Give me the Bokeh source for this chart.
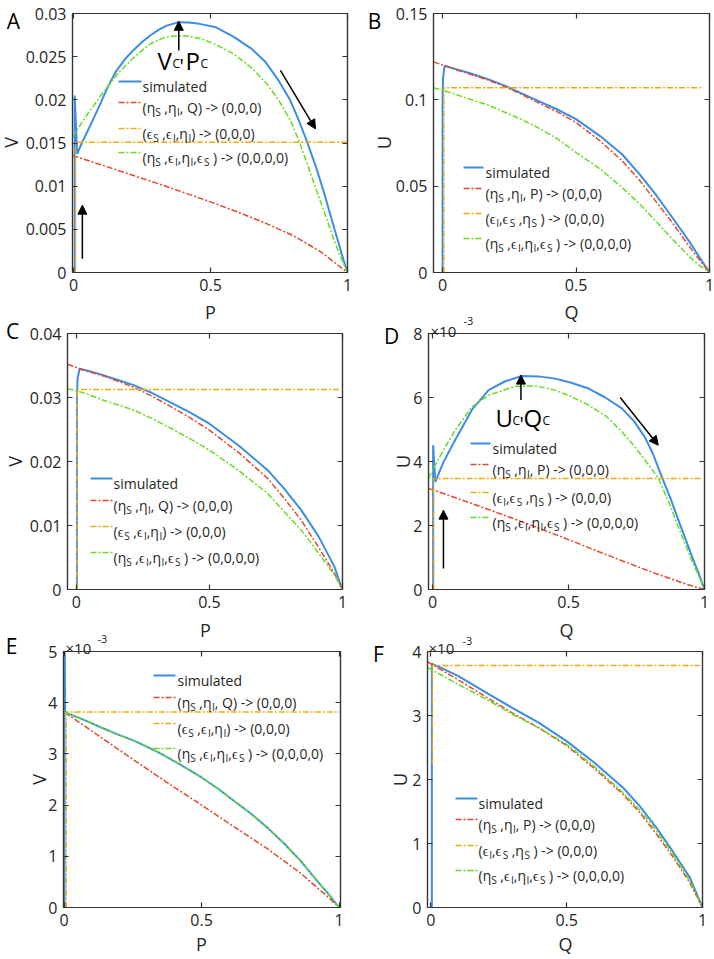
import math
from bokeh.plotting import figure
from bokeh.layouts import row, column
from bokeh.models import Label, Arrow, NormalHead, LinearAxis, FixedTicker, Range1d
from bokeh.embed import file_html
from bokeh.resources import INLINE

FONT = "Open Sans"
C_SIM = "#3C8DE6"
C_RED = "#E5482B"
C_ORA = "#F0AA10"
C_GRN = "#66DD22"
AXC = "#333333"
TXT = "#262626"
DASH = "6 2 2 2"
PAGE_W, PAGE_H = 714, 958

# ---------------- data ----------------
# Panel A : V vs P
A_sim_P = [0.004, 0.004, 0.013, 0.03, 0.05, 0.075, 0.10, 0.125, 0.153, 0.19, 0.22, 0.25, 0.28, 0.31, 0.34, 0.384,
           0.42, 0.46, 0.52, 0.585, 0.65, 0.70, 0.745, 0.79, 0.82, 0.853, 0.885, 0.914, 0.94, 0.962, 0.985, 1.0]
A_sim_V = [0.0, 0.0205, 0.01375, 0.0150, 0.0163, 0.0180, 0.0197, 0.0215, 0.0232, 0.0248, 0.0258, 0.0267, 0.02745,
           0.0281, 0.0286, 0.0290, 0.02895, 0.0288, 0.0284, 0.0273, 0.0259, 0.0244, 0.0224, 0.0200, 0.0178, 0.0151,
           0.0122, 0.0093, 0.0064, 0.0040, 0.0015, 0.0]
A_red_P = [-0.004, 0.1, 0.2, 0.3, 0.4, 0.5, 0.6, 0.7, 0.8, 0.9, 1.0]
A_red_V = [0.01355, 0.01248, 0.01143, 0.01038, 0.00930, 0.00818, 0.00700, 0.00572, 0.00430, 0.00245, 0.0]
A_ora_P = [0.007, 0.007, 1.0]
A_ora_V = [0.0, 0.0151, 0.0151]
A_grn_P = [-0.004, 0.0, 0.05, 0.1, 0.16, 0.22, 0.28, 0.33, 0.366, 0.41, 0.4635, 0.52, 0.585, 0.65, 0.707, 0.75,
           0.792, 0.822, 0.855, 0.889, 0.92, 0.95, 0.975, 1.0]
A_grn_V = [0.0157, 0.0159, 0.0183, 0.0205, 0.0230, 0.0249, 0.0265, 0.0272, 0.0274, 0.0274, 0.0271, 0.0264, 0.0253,
           0.0237, 0.0218, 0.0199, 0.0176, 0.0153, 0.0124, 0.0093, 0.0066, 0.0038, 0.0018, 0.0]

# Panel B : U vs Q
B_sim_Q = [0.0, 0.0, 0.002, 0.0075, 0.05, 0.1, 0.17, 0.235, 0.29, 0.35, 0.43, 0.5, 0.59, 0.6725, 0.74, 0.7975,
           0.86, 0.9225, 0.96, 1.0]
B_sim_U = [0.0, 0.0994, 0.113, 0.1197, 0.1178, 0.1155, 0.1120, 0.1081, 0.1042, 0.1000, 0.0944, 0.0888, 0.0790,
           0.0685, 0.0565, 0.0454, 0.0320, 0.0183, 0.0094, 0.0]
B_red_Q = [-0.034, 0.0075, 0.05, 0.1, 0.17, 0.235, 0.29, 0.35, 0.43, 0.5, 0.59, 0.6725, 0.74, 0.7975, 0.86, 0.9225,
           0.96, 1.0]
B_red_U = [0.122, 0.1197, 0.1175, 0.1150, 0.1115, 0.1075, 0.1036, 0.0990, 0.0930, 0.0869, 0.0762, 0.0647, 0.0530,
           0.0415, 0.0290, 0.0154, 0.0078, 0.0]
B_ora_Q = [0.005, 0.005, 0.975]
B_ora_U = [0.0, 0.107, 0.107]
B_grn_Q = [-0.034, 0.0, 0.1, 0.17, 0.235, 0.29, 0.35, 0.43, 0.5, 0.59, 0.6725, 0.74, 0.7975, 0.86, 0.9225, 0.96, 1.0]
B_grn_U = [0.107, 0.1056, 0.1005, 0.0970, 0.0927, 0.0890, 0.0845, 0.0775, 0.0695, 0.0600, 0.0492, 0.0395, 0.0299,
           0.0195, 0.0095, 0.0043, 0.0]

# Panel C : V vs P
C_sim_P = [0.0025, 0.0025, 0.005, 0.0125, 0.05, 0.1, 0.16, 0.218, 0.285, 0.35, 0.425, 0.5, 0.61, 0.719, 0.78,
           0.845, 0.91, 0.97, 0.99, 1.0]
C_sim_V = [0.0, 0.0301, 0.0330, 0.0345, 0.0341, 0.0335, 0.0327, 0.0319, 0.0307, 0.0293, 0.0277, 0.0259, 0.0225,
           0.01865, 0.0158, 0.0124, 0.0083, 0.00354, 0.0011, 0.0]
C_red_P = [-0.033, 0.0125, 0.05, 0.1, 0.16, 0.218, 0.285, 0.35, 0.425, 0.5, 0.61, 0.719, 0.78, 0.845, 0.91, 0.97,
           0.99, 1.0]
C_red_V = [0.0352, 0.0345, 0.0340, 0.0334, 0.0325, 0.03156, 0.0302, 0.0287, 0.0269, 0.0249, 0.0214, 0.01734, 0.0143,
           0.01083, 0.0066, 0.0025, 0.0008, 0.0]
C_ora_P = [0.003, 0.003, 0.989]
C_ora_V = [0.0, 0.03125, 0.03125]
C_grn_P = [-0.033, 0.0, 0.05, 0.1, 0.16, 0.218, 0.285, 0.35, 0.425, 0.5, 0.61, 0.719, 0.78, 0.845, 0.91, 0.97,
           0.99, 1.0]
C_grn_V = [0.03135, 0.0311, 0.0304, 0.0296, 0.0288, 0.0280, 0.0267, 0.0253, 0.0236, 0.02177, 0.0186, 0.0150,
           0.0122, 0.00927, 0.0057, 0.00224, 0.0007, 0.0]

# Panel D : U (x1e-3) vs Q
D_sim_Q = [0.002, 0.002, 0.01, 0.04, 0.083, 0.145, 0.206, 0.265, 0.328, 0.39, 0.451, 0.51, 0.574, 0.635, 0.696,
           0.74, 0.78, 0.81, 0.843, 0.875, 0.904, 0.93, 0.953, 0.978, 1.0]
D_sim_U = [0.0, 4.51, 3.36, 3.98, 4.67, 5.62, 6.23, 6.50, 6.67, 6.66, 6.59, 6.46, 6.28, 6.00, 5.66, 5.27, 4.77,
           4.25, 3.52, 2.85, 2.17, 1.58, 1.05, 0.52, 0.0]
D_red_Q = [-0.015, 0.1, 0.206, 0.35, 0.5, 0.6, 0.696, 0.82, 0.94, 1.0]
D_red_U = [3.16, 2.82, 2.50, 2.05, 1.56, 1.22, 0.90, 0.50, 0.15, 0.0]
D_ora_Q = [0.004, 0.004, 0.99]
D_ora_U = [0.0, 3.47, 3.47]
D_grn_Q = [-0.015, 0.02, 0.05, 0.083, 0.145, 0.206, 0.304, 0.38, 0.451, 0.51, 0.574, 0.64, 0.696, 0.74, 0.782,
           0.831, 0.87, 0.904, 0.93, 0.953, 0.978, 1.0]
D_grn_U = [3.47, 4.05, 4.50, 4.98, 5.71, 6.07, 6.35, 6.36, 6.23, 6.03, 5.76, 5.40, 4.93, 4.50, 4.04, 3.47, 2.70,
           1.95, 1.40, 0.90, 0.45, 0.0]

# Panel E : V (x1e-3) vs P
E_sim_P = [0.002, 0.002, 0.004, 0.07, 0.133, 0.19, 0.254, 0.34, 0.42, 0.5, 0.56, 0.618, 0.68, 0.739, 0.8, 0.86,
           0.92, 0.96, 1.0]
E_sim_V = [0.0, 5.3, 3.81, 3.67, 3.52, 3.39, 3.26, 3.04, 2.80, 2.54, 2.32, 2.08, 1.83, 1.56, 1.25, 0.91, 0.52,
           0.27, 0.0]
E_red_P = [0.002, 0.1, 0.254, 0.4, 0.5, 0.6, 0.739, 0.86, 0.95, 1.0]
E_red_V = [3.81, 3.45, 2.88, 2.35, 2.00, 1.64, 1.15, 0.67, 0.25, 0.0]
E_ora_P = [0.008, 0.008, 1.0]
E_ora_V = [0.0, 3.82, 3.82]
E_grn_P = [0.002, 0.07, 0.133, 0.19, 0.254, 0.34, 0.42, 0.5, 0.56, 0.618, 0.68, 0.739, 0.8, 0.86, 0.92, 0.96, 1.0]
E_grn_V = [3.81, 3.67, 3.52, 3.39, 3.26, 3.04, 2.80, 2.54, 2.32, 2.08, 1.83, 1.56, 1.25, 0.91, 0.52, 0.27, 0.0]

# Panel F : U (x1e-3) vs Q
F_sim_Q = [0.004, 0.004, 0.05, 0.1, 0.215, 0.3, 0.4, 0.5, 0.6, 0.707, 0.77, 0.83, 0.89, 0.953, 1.0]
F_sim_U = [0.0, 3.81, 3.72, 3.62, 3.33, 3.12, 2.88, 2.60, 2.27, 1.875, 1.58, 1.25, 0.88, 0.47, 0.0]
F_red_Q = [-0.012, 0.1, 0.215, 0.3, 0.4, 0.5, 0.6, 0.707, 0.77, 0.83, 0.89, 0.953, 1.0]
F_red_U = [3.84, 3.56, 3.26, 3.04, 2.80, 2.53, 2.18, 1.77, 1.48, 1.15, 0.80, 0.39, 0.0]
F_ora_Q = [0.006, 0.006, 0.99]
F_ora_U = [2.25, 3.78, 3.78]
F_grn_Q = [-0.012, 0.1, 0.215, 0.3, 0.4, 0.5, 0.6, 0.707, 0.77, 0.83, 0.89, 0.953, 1.0]
F_grn_U = [3.75, 3.49, 3.23, 3.02, 2.80, 2.55, 2.21, 1.80, 1.52, 1.20, 0.84, 0.42, 0.0]

# ticks
X_TICKS = [0, 0.5, 1]
X_TICK_LABELS = ["0", "0.5", "1"]
A_YTICKS = [0, 0.005, 0.01, 0.015, 0.02, 0.025, 0.03]
A_YLABELS = ["0", "0.005", "0.01", "0.015", "0.02", "0.025", "0.03"]
B_YTICKS = [0, 0.05, 0.1, 0.15]
B_YLABELS = ["0", "0.05", "0.1", "0.15"]
C_YTICKS = [0, 0.01, 0.02, 0.03, 0.04]
C_YLABELS = ["0", "0.01", "0.02", "0.03", "0.04"]
D_YTICKS = [0, 2, 4, 6, 8]
D_YLABELS = ["0", "2", "4", "6", "8"]
E_YTICKS = [0, 1, 2, 3, 4, 5]
E_YLABELS = ["0", "1", "2", "3", "4", "5"]
F_YTICKS = [0, 1, 2, 3, 4]
F_YLABELS = ["0", "1", "2", "3", "4"]

# arrows (data coordinates): x_start, y_start, x_end, y_end
A_ARROWS = [(0.032, 0.0016, 0.032, 0.0078), (0.384, 0.0257, 0.384, 0.0291), (0.755, 0.0234, 0.883, 0.01664)]
D_ARROWS = [(0.04, 0.66, 0.04, 2.48), (0.325, 5.92, 0.325, 6.70), (0.69, 6.0, 0.83, 4.51)]

# legend texts: list of (text, is_subscript)
LEG_SIM = [("simulated", 0)]
LEG_PQ_RED = [("(η", 0), ("S", 1), (" ,η", 0), ("I", 1), (", Q) -> (0,0,0)", 0)]
LEG_PQ_ORA = [("(ϵ", 0), ("S", 1), (" ,ϵ", 0), ("I", 1), (",η", 0), ("I", 1), (") -> (0,0,0)", 0)]
LEG_UQ_RED = [("(η", 0), ("S", 1), (" ,η", 0), ("I", 1), (", P) -> (0,0,0)", 0)]
LEG_UQ_ORA = [("(ϵ", 0), ("I", 1), (",ϵ", 0), ("S", 1), (" ,η", 0), ("S", 1), (" ) -> (0,0,0)", 0)]
LEG_GRN = [("(η", 0), ("S", 1), (" ,ϵ", 0), ("I", 1), (",η", 0), ("I", 1), (",ϵ", 0), ("S", 1), (" ) -> (0,0,0,0)", 0)]

# ---------------- helpers ----------------
CW = {'(': 0.296, ')': 0.296, ',': 0.30, ' ': 0.26, '-': 0.322, '>': 0.571, 'Q': 0.78, 'P': 0.613,
      'S': 0.535, 'I': 0.269, 'η': 0.614, 'ϵ': 0.47, 'C': 0.633, "'": 0.2, '×': 0.571, 'U': 0.733, 'V': 0.579}


def tw(s, size):
    w = 0.0
    for ch in s:
        w += 0.571 if ch.isdigit() else CW.get(ch, 0.55)
    return w * size


def to_data(sp, dx, dy):
    x0, x1 = sp["xr"]
    y0, y1 = sp["yr"]
    return x0 + dx / sp["fw"] * (x1 - x0), y1 - dy / sp["fh"] * (y1 - y0)


def add_text(p, sp, dx, dy, text, size, color=TXT, align="left", baseline="alphabetic", angle=0.0):
    x, y = to_data(sp, dx, dy)
    p.add_layout(Label(x=x, y=y, text=text, text_font=FONT, text_font_size=f"{size}px",
                       text_color=color, text_align=align, text_baseline=baseline, angle=angle))


def rich(p, sp, dx, dy, pieces, size=14):
    x = dx
    sub = size * 0.72
    for txt, s in pieces:
        fs = sub if s else size
        n = len(txt) - len(txt.lstrip(' '))
        x += n * 0.26 * fs
        t = txt.lstrip(' ')
        add_text(p, sp, x, dy + (4 if s else 0), t, round(fs, 1))
        x += tw(t, fs)


def style_axis(ax, ticks, labels, show):
    ax.ticker = FixedTicker(ticks=ticks)
    ax.major_tick_in = 5
    ax.major_tick_out = 0
    ax.minor_tick_in = 0
    ax.minor_tick_out = 0
    ax.axis_line_color = AXC
    ax.axis_line_width = 1.2
    ax.major_tick_line_color = AXC
    ax.major_tick_line_width = 1.2
    if show:
        ax.major_label_overrides = {t: l for t, l in zip(ticks, labels)}
        ax.major_label_text_font = FONT
        ax.major_label_text_font_size = "16px"
        ax.major_label_text_color = TXT
        ax.major_label_standoff = 6
    else:
        ax.major_label_text_font_size = "1px"
        ax.major_label_text_color = None
        ax.major_label_standoff = 0


# frame geometry: canvas origin (cx, cy), canvas size (W, H), frame left/top/width/height in page px
PANELS = [
    dict(key="A", cx=0, cy=0, W=355, H=305, fl=72, ft=13, fw=275, fh=259, xr=(-0.004, 1.0), yr=(0, 0.03),
         yt=A_YTICKS, yl=A_YLABELS, xlab="P", ylab="V",
         sim=(A_sim_P, A_sim_V), red=(A_red_P, A_red_V), ora=(A_ora_P, A_ora_V), grn=(A_grn_P, A_grn_V),
         leg=(46, 69, 70, [68, 89, 115, 139]), legtxt=[LEG_SIM, LEG_PQ_RED, LEG_PQ_ORA, LEG_GRN],
         letter=(13, 20), ylpos=(10, 142), xlpos=(210, 311), mult=None, arrows=A_ARROWS,
         crit=[("V", 85, 47, 24), ("C", 100, 50, 12), ("'", 107, 52, 20), ("P", 113, 47, 24), ("C", 128, 50, 12)]),
    dict(key="B", cx=355, cy=0, W=359, H=305, fl=433, ft=13, fw=276, fh=259, xr=(-0.034, 1.0), yr=(0, 0.15),
         yt=B_YTICKS, yl=B_YLABELS, xlab="Q", ylab="U",
         sim=(B_sim_Q, B_sim_U), red=(B_red_Q, B_red_U), ora=(B_ora_Q, B_ora_U), grn=(B_grn_Q, B_grn_U),
         leg=(30, 50, 52, [154, 175, 200, 225]), legtxt=[LEG_SIM, LEG_UQ_RED, LEG_UQ_ORA, LEG_GRN],
         letter=(374, 20), ylpos=(383, 142), xlpos=(571, 311), mult=None, arrows=[], crit=[]),
    dict(key="C", cx=0, cy=305, W=355, H=320, fl=67, ft=333, fw=275, fh=256, xr=(-0.033, 1.0), yr=(0, 0.04),
         yt=C_YTICKS, yl=C_YLABELS, xlab="P", ylab="V",
         sim=(C_sim_P, C_sim_V), red=(C_red_P, C_red_V), ora=(C_ora_P, C_ora_V), grn=(C_grn_P, C_grn_V),
         leg=(23, 45, 46, [145, 167, 193, 219]), legtxt=[LEG_SIM, LEG_PQ_RED, LEG_PQ_ORA, LEG_GRN],
         letter=(12, 330), ylpos=(14, 461), xlpos=(205, 629), mult=None, arrows=[], crit=[]),
    dict(key="D", cx=355, cy=305, W=359, H=320, fl=428, ft=333, fw=276, fh=256, xr=(-0.015, 1.0), yr=(0, 8),
         yt=D_YTICKS, yl=D_YLABELS, xlab="Q", ylab="U",
         sim=(D_sim_Q, D_sim_U), red=(D_red_Q, D_red_U), ora=(D_ora_Q, D_ora_U), grn=(D_grn_Q, D_grn_U),
         leg=(42, 62, 64, [110, 131, 159, 184]), legtxt=[LEG_SIM, LEG_UQ_RED, LEG_UQ_ORA, LEG_GRN],
         letter=(391, 335), ylpos=(402, 461), xlpos=(566, 629), mult=(430, 330, 463, 320), arrows=D_ARROWS,
         crit=[("U", 67, 84, 24), ("C", 84, 87, 12), ("'", 91, 90, 20), ("Q", 95, 84, 24), ("C", 114, 87, 12)]),
    dict(key="E", cx=0, cy=625, W=355, H=333, fl=63, ft=651, fw=277, fh=256, xr=(-0.002, 1.005), yr=(0, 5),
         yt=E_YTICKS, yl=E_YLABELS, xlab="P", ylab="V",
         sim=(E_sim_P, E_sim_V), red=(E_red_P, E_red_V), ora=(E_ora_P, E_ora_V), grn=(E_grn_P, E_grn_V),
         leg=(90, 112, 114, [24, 46, 72, 97]), legtxt=[LEG_SIM, LEG_PQ_RED, LEG_PQ_ORA, LEG_GRN],
         letter=(11, 645), ylpos=(38, 779), xlpos=(201, 943), mult=(65, 647, 97, 638), arrows=[], crit=[]),
    dict(key="F", cx=355, cy=625, W=359, H=333, fl=427, ft=651, fw=275, fh=256, xr=(-0.012, 1.0), yr=(0, 4),
         yt=F_YTICKS, yl=F_YLABELS, xlab="Q", ylab="U",
         sim=(F_sim_Q, F_sim_U), red=(F_red_Q, F_red_U), ora=(F_ora_Q, F_ora_U), grn=(F_grn_Q, F_grn_U),
         leg=(28, 50, 51, [147, 168, 194, 219]), legtxt=[LEG_SIM, LEG_UQ_RED, LEG_UQ_ORA, LEG_GRN],
         letter=(378, 653), ylpos=(399, 779), xlpos=(565, 943), mult=(428, 647, 462, 640), arrows=[], crit=[]),
]


def make(sp):
    mbl = sp["fl"] - sp["cx"]
    mbt = sp["ft"] - sp["cy"]
    mbr = sp["W"] - mbl - sp["fw"]
    mbb = sp["H"] - mbt - sp["fh"]
    p = figure(width=sp["W"], height=sp["H"], x_range=Range1d(*sp["xr"]), y_range=Range1d(*sp["yr"]),
               output_backend="svg", toolbar_location=None,
               min_border_left=mbl, min_border_right=mbr, min_border_top=mbt, min_border_bottom=mbb)
    p.xgrid.visible = False
    p.ygrid.visible = False
    p.outline_line_color = AXC
    p.outline_line_width = 1.2
    p.background_fill_color = "white"
    p.border_fill_color = "white"
    style_axis(p.xaxis[0], X_TICKS, X_TICK_LABELS, True)
    style_axis(p.yaxis[0], sp["yt"], sp["yl"], True)
    top = LinearAxis()
    right = LinearAxis()
    style_axis(top, X_TICKS, X_TICK_LABELS, False)
    style_axis(right, sp["yt"], sp["yl"], False)
    p.add_layout(top, "above")
    p.add_layout(right, "right")

    p.line(*sp["sim"], line_color=C_SIM, line_width=2)
    p.line(*sp["red"], line_color=C_RED, line_width=1.5, line_dash=DASH)
    p.line(*sp["ora"], line_color=C_ORA, line_width=1.5, line_dash=DASH)
    p.line(*sp["grn"], line_color=C_GRN, line_width=1.5, line_dash=DASH)

    # legend drawn manually (keeps the subscripts)
    x0, x1, xt, rows = sp["leg"]
    styles = [(C_SIM, None, 2), (C_RED, DASH, 1.5), (C_ORA, DASH, 1.5), (C_GRN, DASH, 1.5)]
    for (col, dash, lw), ry, pieces in zip(styles, rows, sp["legtxt"]):
        xa, ya = to_data(sp, x0, ry)
        xb, _ = to_data(sp, x1, ry)
        kw = dict(line_color=col, line_width=lw)
        if dash:
            kw["line_dash"] = dash
        p.line([xa, xb], [ya, ya], **kw)
        rich(p, sp, xt, ry + 5, pieces, 14)

    for xs, ys, xe, ye in sp["arrows"]:
        p.add_layout(Arrow(x_start=xs, y_start=ys, x_end=xe, y_end=ye, line_color="black", line_width=1.5,
                           end=NormalHead(size=9, fill_color="black", line_color="black")))
    for t, dx, dy, s in sp["crit"]:
        add_text(p, sp, dx, dy, t, s, color="black")
    return p


# transparent overlay covering the whole page for texts outside the plot boxes
ov = figure(width=PAGE_W, height=PAGE_H, x_range=Range1d(0, PAGE_W), y_range=Range1d(PAGE_H, 0),
            output_backend="svg", toolbar_location=None, x_axis_type=None, y_axis_type=None,
            min_border=0, margin=(-PAGE_H, 0, 0, 0))
ov.xgrid.visible = False
ov.ygrid.visible = False
ov.outline_line_color = None
ov.background_fill_color = None
ov.border_fill_color = None


def ov_text(x, y, text, size, color=TXT, align="left", baseline="alphabetic", angle=0.0):
    ov.add_layout(Label(x=x, y=y, text=text, text_font=FONT, text_font_size=f"{size}px", text_color=color,
                        text_align=align, text_baseline=baseline, angle=angle))


for sp in PANELS:
    lx, ly = sp["letter"]
    ov_text(lx, ly, sp["key"], 21, color="black", align="center")
    ov_text(sp["ylpos"][0], sp["ylpos"][1], sp["ylab"], 18, align="center", baseline="middle", angle=math.pi / 2)
    ov_text(sp["xlpos"][0], sp["xlpos"][1], sp["xlab"], 18, align="center", baseline="middle")
    if sp["mult"]:
        mx, my, ex, ey = sp["mult"]
        ov_text(mx, my, "×10", 15)
        ov_text(ex, ey, "-3", 11)

figs = [make(sp) for sp in PANELS]
grid = column(row(figs[0], figs[1]), row(figs[2], figs[3]), row(figs[4], figs[5]))
layout = column(grid, ov)
open("out.html", "w").write(file_html(layout, INLINE))
